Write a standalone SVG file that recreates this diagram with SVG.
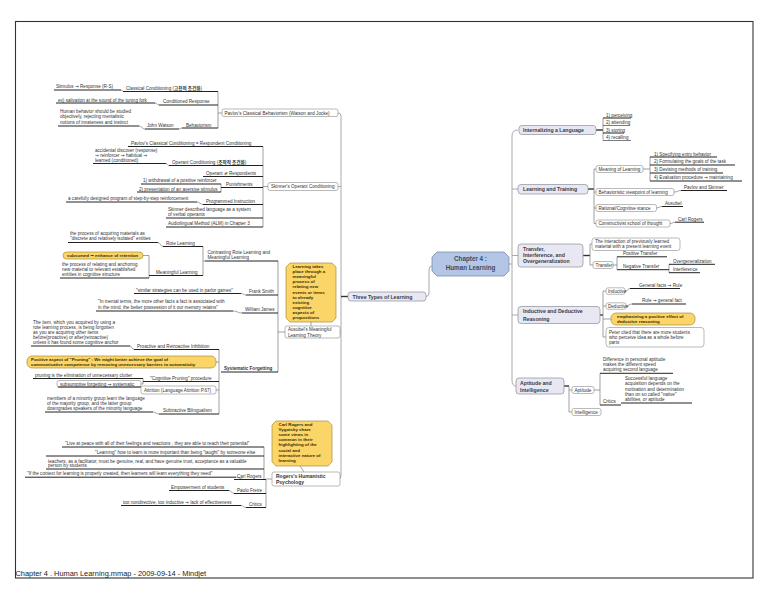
<svg xmlns="http://www.w3.org/2000/svg" width="768" height="594" viewBox="0 0 768 594">
<style>
text{font-family:"Liberation Sans","DejaVu Sans",Arial,sans-serif;font-size:4.6px;fill:#333}
.b{font-weight:bold}
.m{font-size:5.2px;font-weight:bold;fill:#3a3a48}
.n{font-size:4.4px;font-weight:bold;fill:#3a2c00}
.k{font-family:"Noto Sans CJK KR",sans-serif;font-weight:bold}
.ar{font-family:"DejaVu Sans",sans-serif;font-weight:bold}
.u{stroke:#222;stroke-width:1;fill:none}
.c{stroke:#7a7a7a;stroke-width:0.7;fill:none}
.cc{stroke:#a0a0a0;stroke-width:0.9;fill:none}
.ct{stroke:#333;stroke-width:1.4;fill:none}
.bx{fill:#fff;stroke:#8a8a8a;stroke-width:0.6}
.mb{fill:#e8e8f2;stroke:#9a9aa6;stroke-width:0.8}
.nt{fill:#fbd568;stroke:#a8903a;stroke-width:0.7}
.cap{font-size:7.4px;fill:#222}
</style>
<rect width="768" height="594" fill="#fff"/>
<rect x="15.5" y="21.5" width="737.5" height="556.5" fill="none" stroke="#333" stroke-width="1.1"/>
<text class="cap" x="15.5" y="576">Chapter 4 . Human Learning.mmap - 2009-09-14 - Mindjet</text>

<g id="connectors">
<path class="cc" d="M338,113 Q341,113 341,116 V476 Q341,479 338,479"/>
<path class="cc" d="M338,186.5 H341 M340,332 H341"/>
<path class="ct" d="M341,296.5 H348"/>
<path class="cc" d="M432,266 Q429,266 429,270 V293 Q429,296.5 426,296.5"/>
<path class="cc" d="M509,264 H512 M518,130 Q512,130 512,136 V380 Q512,386 516,386 M512,189 H518 M512,255.5 H518 M512,315 H518"/>
<path class="c" d="M218,91.5 V128 M218,113 H222"/>
<path class="c" d="M121,90 Q122.5,90 123,91.5 M155,103 C157,103 157,105 159,105 M179,129 C180.5,129 180.5,128 182,128 M139,126 C142,126 142,129 145,129"/>
<path class="c" d="M263,146.5 V227 M263,186.5 H268"/>
<path class="c" d="M166,163.5 C167.5,163.5 167.5,165.5 169,165.5 M221,184 V192 M197,202 C200,202 200,204.5 203,204.5"/>
<path class="c" d="M203,246.5 V275.5 M203,261 H205 M158,242.5 C160.5,242.5 160.5,246.5 163,246.5 M149,255.5 V278 M143,255.5 H149"/>
<path class="c" d="M278,261 V372 M278,332 H285 M311,322 V326"/>
<path class="c" d="M241,293.5 C243.5,293.5 243.5,295 246,295 M233,311 C237.5,311 237.5,313 242,313"/>
<path class="c" d="M219,349.5 V414 M216,362 H219 M216,390 H219 M130,346 C132,346 132,349.5 134,349.5 M143,378.5 V384 M141,384 H143 M153,412 C156,412 156,414 159,414"/>
<path class="c" d="M266,479.5 V507.5 M266,479 H272 M264,447 V479.5 M300,466 L304,472"/>
<path class="c" d="M229,490.5 C231.5,490.5 231.5,493.5 234,493.5 M241,505.5 C243.5,505.5 243.5,507.5 246,507.5 M236,477.2 C240,477.2 240,479.5 244,479.5"/>
<path class="ct" d="M596,130 H603"/>
<path class="c" d="M603,118 V140.5"/>
<path class="ct" d="M588,189 H594"/>
<path class="c" d="M594,169 V223.5 M594,169 H596 M594,192 H596 M594,208 H596 M594,223.5 H596"/>
<path class="c" d="M643,169 H650 M650,157 V181"/>
<path class="c" d="M674,192 C678,192 678,190.5 681,190.5 M656.5,208 C659,208 659,206.5 662,206.5 M670,223.5 C672.5,223.5 672.5,222.2 675,222.2"/>
<path class="ct" d="M583,255.5 H590"/>
<path class="c" d="M590,244 V265 M590,244 H592 M590,265 H593 M613,265 H617 M617,256.8 V269.7 M669,264.3 V272.7"/>
<path class="ct" d="M600,315 H603"/>
<path class="c" d="M603,291 V337 M603,291 H606 M603,306 H606 M603,319 H611 M603,337 H606 M625,291 C628,291 628,288.5 630,288.5 M626,306 C629,306 629,304 632,304"/>
<path class="ct" d="M564,386 H569"/>
<path class="c" d="M569,386 V412 H572 M569,390 H572 M594,390 H600 M600,373.3 V405"/>
</g>

<g id="central">
<polygon points="437,252 504,252 509,257 509,271 504,276 437,276 432,271 432,257" fill="#b3c6e6" stroke="#7f8fb0" stroke-width="0.8"/>
<text x="470.5" y="260.8" text-anchor="middle" style="font-size:6.3px;font-weight:bold;fill:#3d4a66">Chapter 4 :</text>
<text x="470.5" y="270" text-anchor="middle" style="font-size:6.3px;font-weight:bold;fill:#3d4a66">Human Learning</text>
</g>

<g id="three-types">
<rect class="mb" x="348" y="292" width="78" height="9" rx="3"/>
<text class="m" x="352.5" y="298.5">Three Types of Learning</text>
</g>

<g id="pavlov">
<rect class="bx" x="222" y="109" width="116" height="7.5" rx="2"/>
<text x="224.5" y="114.6">Pavlov's Classical Behaviorism (Watson and Jocke)</text>
</g>
<g id="classical-conditioning">
<text x="126" y="89.5">Classical Conditioning (<tspan class="k">고전적 조건화</tspan>)</text>
<path class="u" d="M123,91.5 H218"/>
</g>
<g id="stimulus">
<text x="56" y="88">Stimulus <tspan class="ar">→</tspan> Response (R-S)</text>
<path class="u" d="M54,90 H121"/>
</g>
<g id="conditioned-response">
<text x="163" y="103">Conditioned Response</text>
<path class="u" d="M159,105 H218"/>
</g>
<g id="salivation">
<text x="58" y="101.5">ex) salivation at the sound of the tuning fork</text>
<path class="u" d="M56,103 H155"/>
</g>
<g id="behaviorism">
<text x="186" y="126.5">Behaviorism</text>
<path class="u" d="M182,128 H218"/>
</g>
<g id="john-watson">
<text x="147" y="127">John Watson</text>
<path class="u" d="M145,129 H179"/>
</g>
<g id="human-behavior">
<text x="60" y="113">Human behavior should be studied</text>
<text x="60" y="118.3">objectively, rejecting mentalistic</text>
<text x="60" y="123.6">notions of innateness and instinct</text>
<path class="u" d="M58,126 H139"/>
</g>

<g id="skinner">
<rect class="bx" x="268" y="182.5" width="70" height="8" rx="2"/>
<text x="271" y="188.3">Skinner's Operant Conditioning</text>
</g>
<g id="pavlov-respondent">
<text x="131" y="144.5">Pavlov's Classical Conditioning = Respondent Conditioning</text>
<path class="u" d="M128,146.5 H263"/>
</g>
<g id="operant-conditioning">
<text x="172" y="163.5">Operant Conditioning (<tspan class="k">조작적 조건화</tspan>)</text>
<path class="u" d="M169,165.5 H263"/>
</g>
<g id="accidental">
<text x="95" y="151.5">accidental discover (response)</text>
<text x="95" y="156.5"><tspan class="ar">→</tspan> reinforcer <tspan class="ar">→</tspan> habitual <tspan class="ar">→</tspan></text>
<text x="95" y="161.5">learned (conditioned)</text>
<path class="u" d="M93,163.5 H166"/>
</g>
<g id="operant-respondents">
<text x="206" y="174.5">Operant <tspan class="ar">≠</tspan> Respondents</text>
<path class="u" d="M203,176.5 H263"/>
</g>
<g id="punishments">
<text x="226" y="185.5">Punishments</text>
<path class="u" d="M221,187.5 H263"/>
</g>
<g id="withdrawal">
<text x="143" y="182">1) withdrawal of a positive reinforcer</text>
<path class="u" d="M141,184 H221"/>
</g>
<g id="presentation">
<text x="139" y="190.5">2) presentation of an aversive stimulus</text>
<path class="u" d="M137,192 H221"/>
</g>
<g id="programmed">
<text x="206" y="202.5">Programmed Instruction</text>
<path class="u" d="M203,204.5 H263"/>
</g>
<g id="careful">
<text x="68" y="200">a carefully designed program of step-by-step reinforcement</text>
<path class="u" d="M66,202 H197"/>
</g>
<g id="verbal-operants">
<text x="168" y="210.5">Skinner described language as a system</text>
<text x="168" y="215.8">of verbal operants</text>
<path class="u" d="M166,218 H263"/>
</g>
<g id="alm">
<text x="168" y="225">Audiolingual Method (ALM) in Chapter 3</text>
<path class="u" d="M166,227 H263"/>
</g>

<g id="ausubel">
<rect class="bx" x="285" y="326" width="55" height="12" rx="2"/>
<text x="288" y="331">Ausubel's Meaningful</text>
<text x="288" y="336.5">Learning Theory</text>
</g>
<g id="ausubel-note">
<polygon class="nt" points="290,263 332,263 336,267 336,318 332,322 290,322 286,318 286,267"/>
<text class="n" x="292.5" y="268">Learning takes</text>
<text class="n" x="292.5" y="273.1">place through a</text>
<text class="n" x="292.5" y="278.2">meaningful</text>
<text class="n" x="292.5" y="283.3">process of</text>
<text class="n" x="292.5" y="288.4">relating new</text>
<text class="n" x="292.5" y="293.5">events or items</text>
<text class="n" x="292.5" y="298.6">to already</text>
<text class="n" x="292.5" y="303.7">existing</text>
<text class="n" x="292.5" y="308.8">cognitive</text>
<text class="n" x="292.5" y="313.9">aspects of</text>
<text class="n" x="292.5" y="319">propositions</text>
</g>
<g id="contrasting">
<text x="207.5" y="253.5">Contrasting Rote Learning and</text>
<text x="207.5" y="259">Meaningful Learning</text>
<path class="u" d="M205,261 H278"/>
</g>
<g id="rote">
<text x="166" y="244.5">Rote Learning</text>
<path class="u" d="M163,246.5 H203"/>
</g>
<g id="rote-def">
<text x="70" y="234.5">the process of acquiring materials as</text>
<text x="70" y="240">"discrete and relatively isolated" entities</text>
<path class="u" d="M68,242.5 H158"/>
</g>
<g id="meaningful">
<text x="156" y="273.5">Meaningful Learning</text>
<path class="u" d="M149,275.5 H203"/>
</g>
<g id="subsumed">
<rect class="nt" x="63" y="252" width="80" height="7" rx="3.5"/>
<text class="n" x="67" y="257.1">subsumed <tspan class="ar">→</tspan> enhance of retention</text>
</g>
<g id="meaningful-def">
<text x="62" y="266">the process of relating and anchoring</text>
<text x="62" y="271">new material to relevant established</text>
<text x="62" y="276">entities in cognitive structure</text>
<path class="u" d="M60,278 H149"/>
</g>
<g id="frank-smith">
<text x="249" y="293">Frank Smith</text>
<path class="u" d="M246,295 H278"/>
</g>
<g id="parlor">
<text x="136" y="291.5">"similar strategies can be used in parlor games"</text>
<path class="u" d="M134,293.5 H241"/>
</g>
<g id="william-james">
<text x="245" y="311">William James</text>
<path class="u" d="M242,313 H278"/>
</g>
<g id="mental-terms">
<text x="98" y="303">"In mental terms, the more other facts a fact is associated with</text>
<text x="98" y="308.5">in the mind, the better possession of it our memory retains"</text>
<path class="u" d="M96,311 H233"/>
</g>
<g id="systematic-forgetting">
<text class="b" x="224" y="370">Systematic Forgetting</text>
<path class="u" d="M221,372 H278"/>
</g>
<g id="inhibition">
<text x="137" y="347.5">Proactive and Retroactive Inhibition</text>
<path class="u" d="M134,349.5 H219"/>
</g>
<g id="item-forgotten">
<text x="33" y="324">The item, which you acquired by using a</text>
<text x="33" y="329">rote learning process, is being forgotten</text>
<text x="33" y="334">as you are acquiring other items</text>
<text x="33" y="339">before(proactive) or after(retroactive)</text>
<text x="33" y="344">unless it has found some cognitive anchor</text>
<path class="u" d="M31,346 H130"/>
</g>
<g id="pruning-note">
<rect class="nt" x="27" y="356" width="189" height="12" rx="5"/>
<text class="n" x="31" y="361">Positive aspect of "Pruning" : We might better achieve the goal of</text>
<text class="n" x="31" y="366.2">communicative competence by removing unnecessary barriers to automaticity</text>
</g>
<g id="cognitive-pruning">
<text x="150" y="379.5">"Cognitive Pruning" procedure</text>
<path class="u" d="M143,381.5 H219"/>
</g>
<g id="pruning-def">
<text x="35" y="376.5">pruning is the elimination of unnecessary clutter</text>
<path class="u" d="M33,378.5 H143"/>
</g>
<g id="subsumptive">
<rect class="bx" x="57" y="380.5" width="84" height="6.5" rx="2"/>
<text x="60" y="385.5">subsumptive forgetting <tspan class="ar">→</tspan> systematic</text>
<path class="u" d="M58,387 H141"/>
</g>
<g id="attrition">
<rect class="bx" x="141" y="386" width="75" height="8" rx="2"/>
<text x="144" y="391.6">Attrition (Language Attrition P.67)</text>
</g>
<g id="subtractive">
<text x="163" y="412">Subtractive Bilingualism</text>
<path class="u" d="M159,414 H219"/>
</g>
<g id="minority">
<text x="47" y="400">members of a minority group learn the language</text>
<text x="47" y="405">of the majority group, and the latter group</text>
<text x="47" y="410">downgrades speakers of the minority language</text>
<path class="u" d="M45,412 H153"/>
</g>

<g id="rogers">
<rect class="bx" x="272" y="472" width="68" height="14" rx="2"/>
<text class="b" x="276" y="477.8" style="font-size:5px">Rogers's Humanistic</text>
<text class="b" x="276" y="484" style="font-size:5px">Psychology</text>
</g>
<g id="rogers-note">
<polygon class="nt" points="276,421 328,421 332,425 332,462 328,466 276,466 272,462 272,425"/>
<text class="n" x="278.5" y="426">Carl Rogers and</text>
<text class="n" x="278.5" y="431.1">Vygotsky share</text>
<text class="n" x="278.5" y="436.2">some views in</text>
<text class="n" x="278.5" y="441.3">common in their</text>
<text class="n" x="278.5" y="446.4">highlighting of the</text>
<text class="n" x="278.5" y="451.5">social and</text>
<text class="n" x="278.5" y="456.6">interactive nature of</text>
<text class="n" x="278.5" y="461.7">learning</text>
</g>
<g id="carl-rogers">
<text x="237" y="477.5">Carl Rogers</text>
<path class="u" d="M234,479.5 H266"/>
</g>
<g id="live-at-peace">
<text x="65" y="444.5">"Live at peace with all of their feelings and reactions ; they are able to reach their potential"</text>
<path class="u" d="M62,447 H264"/>
</g>
<g id="learning-how">
<text x="95" y="454">"Learning" how to learn is more important than being "taught" by someone else</text>
<path class="u" d="M46,456 H264"/>
</g>
<g id="teachers">
<text x="48" y="462.8">teachers, as a facilitator, must be genuine, real, and have genuine trust, acceptance as a valuable</text>
<text x="48" y="467.3">person by students</text>
<path class="u" d="M46,469 H264"/>
</g>
<g id="context">
<text x="27" y="475.2">"If the context for learning is properly created, then learners will learn everything they need"</text>
<path class="u" d="M25,477.2 H236"/>
</g>
<g id="paulo-freire">
<text x="237" y="491.5">Paulo Freire</text>
<path class="u" d="M234,493.5 H266"/>
</g>
<g id="empowerment">
<text x="171" y="488.5">Empowerment of students</text>
<path class="u" d="M169,490.5 H229"/>
</g>
<g id="critics-rogers">
<text x="249" y="505.5">Critics</text>
<path class="u" d="M246,507.5 H266"/>
</g>
<g id="nondirective">
<text x="123" y="503.5">too nondirective, too inductive <tspan class="ar">→</tspan> lack of effectiveness</text>
<path class="u" d="M121,505.5 H241"/>
</g>

<g id="internalizing">
<rect class="mb" x="519" y="125.5" width="77" height="9" rx="3"/>
<text class="m" x="523" y="131.8">Internalizing a Language</text>
</g>
<g id="perceiving"><text x="606" y="116.5">1) perceiving</text><path class="u" d="M603,118 H631"/></g>
<g id="attending"><text x="606" y="124">2) attending</text><path class="u" d="M603,125.5 H630" style="stroke-width:0.6"/></g>
<g id="storing"><text x="606" y="131.5">3) storing</text><path class="u" d="M603,133 H624"/></g>
<g id="recalling"><text x="606" y="139">4) recalling</text><path class="u" d="M603,140.5 H631" style="stroke-width:0.6"/></g>

<g id="learning-training">
<rect class="mb" x="518" y="184.5" width="70" height="9.5" rx="3"/>
<text class="m" x="523" y="191.2">Learning and Training</text>
</g>
<g id="meaning-learning">
<rect class="bx" x="596" y="165.5" width="47" height="7" rx="2"/>
<text x="598.5" y="170.8">Meaning of Learning</text>
</g>
<g id="specifying"><text x="654" y="155.5">1) Specifying entry behavior</text><path class="u" d="M650,157 H717"/></g>
<g id="formulating"><text x="654" y="163.2">2) Formulating the goals of the task</text><path class="u" d="M650,165 H735"/></g>
<g id="devising"><text x="654" y="171.3">3) Devising methods of training</text><path class="u" d="M650,173 H723"/></g>
<g id="evaluation"><text x="654" y="179.2">4) Evaluation procedure <tspan class="ar">→</tspan> maintaining</text><path class="u" d="M650,181 H742"/></g>
<g id="behavioristic">
<rect class="bx" x="596" y="188.5" width="78" height="7" rx="2"/>
<text x="598.5" y="193.8">Behavioristic viewpoint of learning</text>
</g>
<g id="pavlov-skinner"><text x="684" y="188.8">Pavlov and Skinner</text><path class="u" d="M681,190.5 H727"/></g>
<g id="rational">
<rect class="bx" x="596" y="204.5" width="60.5" height="7" rx="2"/>
<text x="598.5" y="209.8">Rational/Cognitive stance</text>
</g>
<g id="ausubel-r"><text x="665" y="204.8">Ausubel</text><path class="u" d="M662,206.5 H683"/></g>
<g id="constructivist">
<rect class="bx" x="596" y="220" width="74" height="7" rx="2"/>
<text x="598.5" y="225.3">Constructivist school of thought</text>
</g>
<g id="carl-rogers-r"><text x="678" y="220.5">Carl Rogers</text><path class="u" d="M675,222.2 H704"/></g>

<g id="transfer-main">
<rect class="mb" x="518" y="244" width="65" height="23" rx="3"/>
<text class="m" x="523" y="250.8">Transfer,</text>
<text class="m" x="523" y="256.8">Interference, and</text>
<text class="m" x="523" y="262.8">Overgeneralization</text>
</g>
<g id="interaction">
<rect class="bx" x="592" y="238" width="88" height="12.5" rx="2.5"/>
<text x="595" y="242.6">The interaction of previously learned</text>
<text x="595" y="247.6">material with a present learning event</text>
</g>
<g id="transfer">
<rect class="bx" x="593" y="261.5" width="20" height="7" rx="2"/>
<text x="595.5" y="266.8">Transfer</text>
</g>
<g id="positive-transfer"><text x="623" y="255.2">Positive Transfer</text><path class="u" d="M617,256.8 H667"/></g>
<g id="negative-transfer"><text x="623" y="268">Negative Transfer</text><path class="u" d="M617,269.7 H669"/></g>
<g id="overgeneralization"><text x="673" y="262.7">Overgeneralization</text><path class="u" d="M669,264.3 H715"/></g>
<g id="interference"><text x="673" y="271">Interference</text><path class="u" d="M669,272.7 H700"/></g>

<g id="inductive-deductive">
<rect class="mb" x="518" y="306.5" width="82" height="17" rx="3"/>
<text class="m" x="523" y="313.3">Inductive and Deductive</text>
<text class="m" x="523" y="320.8">Reasoning</text>
</g>
<g id="inductive">
<rect class="bx" x="606" y="287.8" width="19" height="6.5" rx="2"/>
<text x="608" y="292.8">Inductive</text>
</g>
<g id="general-facts"><text x="639" y="287">General facts <tspan class="ar">→</tspan> Rule</text><path class="u" d="M630,288.5 H680"/></g>
<g id="deductive">
<rect class="bx" x="606" y="302.8" width="20" height="6.5" rx="2"/>
<text x="608" y="307.8">Deductive</text>
</g>
<g id="rule-general"><text x="642" y="302.3">Rule <tspan class="ar">→</tspan> general fact</text><path class="u" d="M632,304 H686"/></g>
<g id="emphasizing">
<rect class="nt" x="611" y="313" width="84" height="12" rx="5"/>
<text class="n" x="617" y="317.9">emphasizing a positive effect of</text>
<text class="n" x="617" y="322.6">deductive reasoning</text>
</g>
<g id="peter">
<rect class="bx" x="606" y="327.5" width="98" height="19.5" rx="3"/>
<text x="609" y="333.5">Peter cited that there are more students</text>
<text x="609" y="338.8">who perceive idea as a whole before</text>
<text x="609" y="344.1">parts</text>
</g>

<g id="aptitude-intelligence">
<rect class="mb" x="516" y="378" width="48" height="16" rx="3"/>
<text class="m" x="520" y="384.5">Aptitude and</text>
<text class="m" x="520" y="391.5">Intelligence</text>
</g>
<g id="aptitude">
<rect class="bx" x="572" y="386.5" width="22" height="7" rx="2"/>
<text x="574.5" y="391.8">Aptitude</text>
</g>
<g id="difference">
<text x="603" y="361">Difference in personal aptitude</text>
<text x="603" y="366">makes the different speed</text>
<text x="603" y="371">acquiring second language</text>
<path class="u" d="M600,373.3 H673"/>
</g>
<g id="critics-aptitude"><text x="603" y="403">Critics</text><path class="u" d="M600,405 H621"/></g>
<g id="successful">
<text x="625" y="379.5">Successful language</text>
<text x="625" y="385">acquisition depends on the</text>
<text x="625" y="390.5">motivation and determination</text>
<text x="625" y="396">than on so called "native"</text>
<text x="625" y="401.3">abilities, or aptitude</text>
<path class="u" d="M621,403 H692"/>
</g>
<g id="intelligence">
<rect class="bx" x="572" y="408.5" width="29" height="7" rx="2"/>
<text x="574.5" y="413.8">Intelligence</text>
</g>
</svg>
